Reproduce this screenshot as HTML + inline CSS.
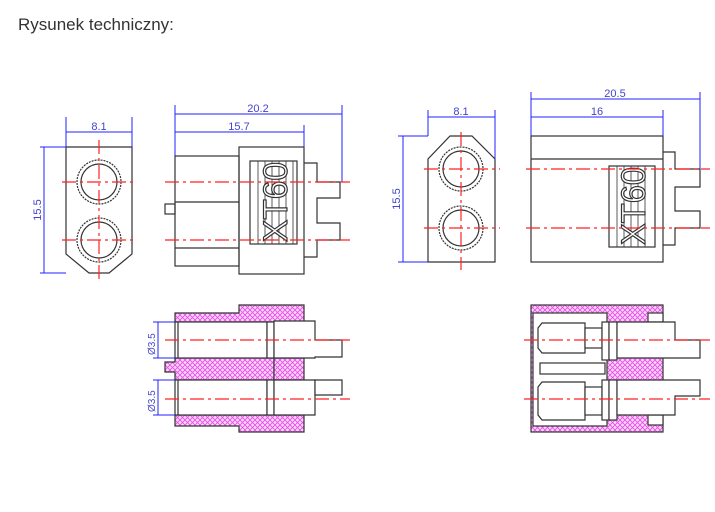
<!DOCTYPE html>
<html><head><meta charset="utf-8"><style>
html,body{margin:0;padding:0;background:#fff;width:715px;height:512px;overflow:hidden}
</style></head><body>
<svg width="715" height="512" viewBox="0 0 715 512" xmlns="http://www.w3.org/2000/svg" font-family="Liberation Sans, sans-serif">
<defs>
<pattern id="h" width="5" height="5" patternUnits="userSpaceOnUse">
<rect width="5" height="5" fill="#fad8fa"/>
<path d="M0 0L5 5M5 0L0 5" stroke="#e850e8" stroke-width="0.9"/>
</pattern>
</defs>
<text x="18" y="30" font-size="17" fill="#333">Rysunek techniczny:</text>

<g fill="none" stroke="#333" stroke-width="1.2">
<path d="M66 147H132V254L109 273H89L66 254Z"/>
<circle cx="99" cy="182" r="22" stroke-dasharray="2 1"/><circle cx="99" cy="182" r="18"/>
<circle cx="99" cy="240" r="22" stroke-dasharray="2 1"/><circle cx="99" cy="240" r="18"/>
<rect x="175" y="156" width="64" height="110"/>
<rect x="239" y="147" width="65" height="127"/>
<rect x="165" y="204" width="10" height="10"/>
<path d="M175 202H239M175 248H239"/>
<path d="M304 163H317V182H340V198H317V223H340V240H317V257H304"/>
<rect x="250" y="161" width="47" height="83"/>
<path d="M258 161V244M265 161V244M272 161V244M279 161V244M286 161V244M293 161V244" stroke-width="0.8"/>
<path d="M450 136H472L495 159V262H428V159Z"/>
<circle cx="461" cy="169" r="22" stroke-dasharray="2 1"/><circle cx="461" cy="169" r="18"/>
<circle cx="461" cy="228" r="22" stroke-dasharray="2 1"/><circle cx="461" cy="228" r="18"/>
<rect x="531" y="136" width="132" height="126"/>
<path d="M531 159H663"/>
<path d="M663 152H675V169H700V187H675V211H700V228H675V245H663"/>
<rect x="609" y="166" width="46" height="81"/>
<path d="M617 166V247M624 166V247M631 166V247M638 166V247M645 166V247" stroke-width="0.8"/>
</g>
<g font-size="34" fill="#fff" stroke="#333" stroke-width="1.2">
<text transform="translate(287,242) rotate(-90)" textLength="80" lengthAdjust="spacingAndGlyphs">XT60</text>
<text transform="translate(645,245) rotate(-90)" textLength="78" lengthAdjust="spacingAndGlyphs">XT60</text>
</g>

<g stroke="#333" stroke-width="1.2">
<path d="M175 313H239V305H304V322H175Z" fill="url(#h)"/>
<path d="M175 426H239V432H304V415H175Z" fill="url(#h)"/>
<path d="M175 358H274V380H175V372H165V362H175Z" fill="url(#h)"/>
<path d="M274 358H304V380H274Z" fill="url(#h)"/>
<g fill="#fff">
<rect x="175" y="322" width="92" height="36"/>
<rect x="175" y="380" width="92" height="35"/>
<rect x="267" y="322" width="7" height="36"/><rect x="267" y="380" width="7" height="35"/>
<path d="M274 321H315V340H342V357H315V358H274Z"/>
<path d="M274 380H315V415H274Z"/><path d="M315 380H342V395H315Z"/>
</g>
<path d="M178 322V358M178 380V415" />
</g>
<g stroke="#22f" stroke-width="1" fill="none">
<path d="M153 322H175M153 358H175M158 322V358M153 380H175M153 415H175M158 380V415"/>
</g>
<g font-size="10" fill="#44c">
<text transform="translate(155,355) rotate(-90)">Ø3.5</text>
<text transform="translate(155,412) rotate(-90)">Ø3.5</text>
</g>

<g stroke="#333" stroke-width="1.2">
<rect x="531" y="305" width="132" height="127" fill="url(#h)"/>
<rect x="533" y="313" width="74" height="113" fill="#fff"/>
<g fill="#fff">
<rect x="648" y="313" width="15" height="9"/><rect x="648" y="415" width="15" height="10"/>
<path d="M542 323H585V353H542L538 348V328Z"/><rect x="585" y="328" width="17" height="20"/>
<rect x="602" y="322" width="7" height="38"/><rect x="609" y="322" width="8" height="38"/>
<path d="M617 322H675V340H700V358H617Z"/>
<rect x="540" y="363" width="65" height="11"/>
<path d="M542 382H585V420H542L538 415V387Z"/><rect x="585" y="387" width="17" height="28"/>
<rect x="602" y="380" width="7" height="40"/><rect x="609" y="380" width="8" height="40"/>
<path d="M617 380H700V396H675V415H617Z"/>
</g>
</g>

<g stroke="#22f" stroke-width="1" fill="none">
<path d="M66 117V147M132 117V147M66 132H132"/>
<path d="M44 147V273M40 147H66M40 273H66"/>
<path d="M175 105V156M342 105V182M175 114H342M304 125V147M175 132H304"/>
<path d="M428 110V136M495 110V159M428 117H495"/>
<path d="M403 136V262M398 136H428M398 262H428"/>
<path d="M531 92V136M700 92V169M531 99H700M663 110V136M531 117H663"/>
</g>
<g font-size="11" fill="#44c" text-anchor="middle">
<text x="99" y="130">8.1</text>
<text x="258" y="112">20.2</text>
<text x="239" y="130">15.7</text>
<text x="461" y="115">8.1</text>
<text x="615" y="97">20.5</text>
<text x="597" y="115">16</text>
<text transform="translate(41,210) rotate(-90)">15.5</text>
<text transform="translate(400,199) rotate(-90)">15.5</text>
</g>

<g stroke="#f22" stroke-width="1.2" fill="none" stroke-dasharray="14 4 3 4">
<path d="M62 182H137M62 240H137M99 140V280"/>
<path d="M165 182H350M165 240H350"/>
<path d="M424 169H500M424 228H500M461 132V270"/>
<path d="M526 169H710M526 228H710"/>
<path d="M165 340H350M165 399H350"/>
<path d="M524 340H710M524 399H710"/>
</g>
</svg>
</body></html>
